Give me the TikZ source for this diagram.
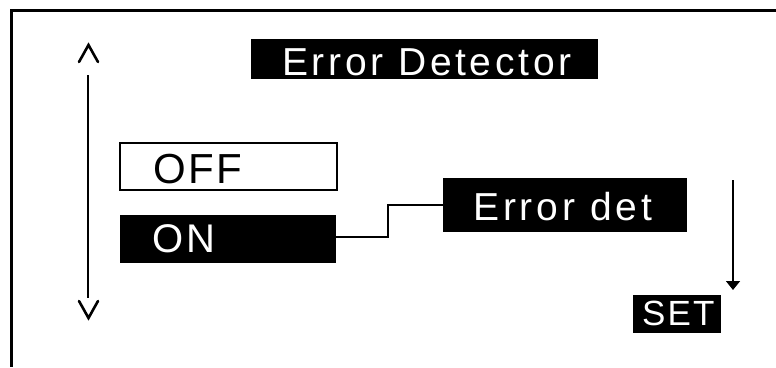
\documentclass[tikz,border=0pt]{standalone}
\usepackage{fontspec}
\setmainfont{Liberation Sans}
\usetikzlibrary{arrows.meta}
\tikzset{
  blackbox/.style={draw=black, fill=black, inner sep=0pt, line width=0.8pt},
  whitebox/.style={draw=black, fill=white, inner sep=0pt, line width=2pt},
  wtext/.style={text=white, inner sep=0pt, anchor=base west},
  btext/.style={text=black, inner sep=0pt, anchor=base west},
  caret/.style={line width=2.6pt, line cap=round, line join=miter},
  wire/.style={line width=2pt}
}
\begin{document}
\begin{tikzpicture}[x=1pt, y=-1pt]
\useasboundingbox (0,0) rectangle (776,367);
% frame (top and left edges)
\draw[line width=3pt] (776,10.5) -- (11.5,10.5) -- (11.5,367);

% scroll indicator
\coordinate (sT) at (88,75);
\coordinate (sB) at (88,298);
\draw[line width=2pt] (sT) -- (sB);
\draw[caret] (79,62) -- (88.5,45) -- (98,62);
\draw[caret] (79,301) -- (88.5,318) -- (98,301);

% title
\node[blackbox, minimum width=346, minimum height=39] (title) at (424,58.5) {};
\node[wtext] (titlet) at (282,75) {\addfontfeature{LetterSpace=9.5}\fontsize{39}{41}\selectfont Error Detector};

% options
\node[whitebox, minimum width=217, minimum height=47] (off) at (228.5,166.5) {};
\node[btext] (offt) at (153,183) {\addfontfeature{LetterSpace=6}\fontsize{42}{44}\selectfont OFF};
\node[blackbox, minimum width=215, minimum height=47] (on) at (227.5,238.5) {};
\node[wtext] (ont) at (152,252) {\addfontfeature{LetterSpace=8}\fontsize{40}{42}\selectfont ON};

% sub item
\node[blackbox, minimum width=243, minimum height=53] (det) at (564.5,204.5) {};
\node[wtext] (dett) at (473,220) {\addfontfeature{LetterSpace=10}\fontsize{39}{41}\selectfont Error det};
\coordinate (j1) at (388,237);
\coordinate (j2) at (388,205);
\draw[wire] (on.east |- j1) -- (j1) -- (j2) -- (det.west |- j2);

% set key
\coordinate (aTop) at (733,180);
\coordinate (aTip) at (733,290);
\draw[line width=1.6pt, -{Triangle[length=9pt, width=14pt]}] (aTop) -- (aTip);
\node[blackbox, minimum width=87, minimum height=37] (set) at (676.5,313.5) {};
\node[wtext] (sett) at (642,325) {\addfontfeature{LetterSpace=6}\fontsize{35}{37}\selectfont SET};
\end{tikzpicture}
\end{document}
